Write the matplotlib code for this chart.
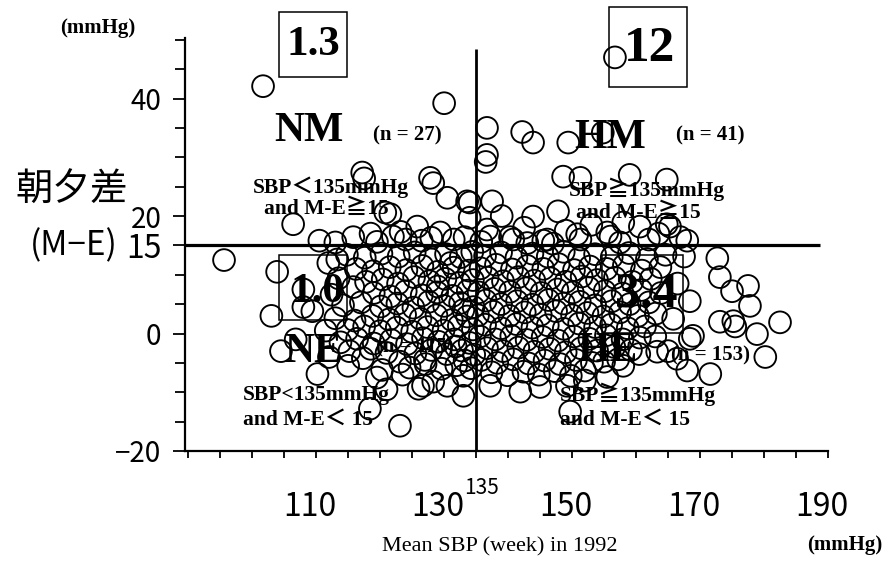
import matplotlib
matplotlib.use("Agg")
import matplotlib.pyplot as plt
from matplotlib.transforms import Affine2D, ScaledTranslation
from matplotlib.patches import Rectangle
from matplotlib.ticker import MultipleLocator

# ---------------- data ----------------
# NM: SBP<135 and M-E>=15
nm_sbp = [101.7, 130.0, 117.2, 117.5, 127.8, 128.3, 130.5, 106.4, 120.8, 125.8,
          134.0, 134.0, 115.8, 122.0, 123.2, 128.0, 133.2, 133.6, 121.6, 129.4,
          131.5, 126.5, 119.5, 113.0, 124.0, 118.5, 110.5]
nm_me = [42.1, 39.2, 27.4, 26.4, 26.5, 25.6, 23.1, 18.6, 20.6, 18.2,
         22.3, 19.7, 16.4, 16.5, 17.3, 16.3, 16.4, 22.5, 20.3, 17.2,
         16.0, 15.8, 15.6, 15.5, 16.0, 17.0, 15.8]

# HM: SBP>=135 and M-E>=15
hm_sbp = [156.7, 136.7, 142.2, 143.9, 149.4, 154.8, 136.7, 136.5, 148.6, 151.3,
          159.0, 164.8, 143.9, 147.8, 158.0, 165.3, 137.2, 140.8, 145.5, 151.3,
          156.0, 136.7, 140.3, 146.1, 150.8, 155.5, 160.6, 166.9, 164.8, 162.0,
          153.0, 139.0, 137.5, 168.0, 142.5, 149.0, 135.8, 157.5, 163.5, 143.0,
          147.0]
hm_me = [47.0, 35.0, 34.3, 32.5, 32.5, 34.2, 30.4, 29.2, 26.7, 26.5,
         27.0, 26.2, 19.9, 20.8, 18.9, 18.2, 16.5, 16.0, 15.8, 16.0,
         16.5, 17.7, 16.4, 16.0, 16.9, 17.2, 18.2, 16.4, 18.6, 16.0,
         18.5, 20.0, 22.5, 15.8, 18.0, 17.5, 15.6, 15.5, 17.0, 15.4,
         15.3]

# NE: SBP<135 and M-E<15
ne_sbp = [95.6, 103.9, 103.0, 104.5, 110.2, 118.4, 123.1, 120.3, 117.3, 111.9,
          113.3, 115.8, 109.4, 108.0, 108.0, 123.1, 126.7, 133.0, 133.0, 130.5,
          128.3, 126.0, 106.8, 111.5, 112.0,
          114.8, 117.6, 120.2, 122.9, 125.4, 127.8, 130.3, 132.6, 134.4,
          116.2, 118.9, 121.5, 124.1, 126.6, 129.0, 131.5, 133.9,
          113.5, 117.8, 120.4, 122.8, 125.3, 127.7, 130.2, 132.4, 134.5,
          112.4, 119.0, 121.6, 124.0, 126.5, 128.9, 131.3, 133.7,
          114.2, 117.0, 120.1, 122.7, 125.2, 127.6, 130.0, 132.5, 134.6,
          113.0, 116.0, 118.8, 121.4, 123.9, 126.3, 128.8, 131.2, 133.6,
          114.9, 117.5, 120.0, 122.6, 125.0, 127.4, 129.9, 132.3, 134.5,
          113.8, 116.4, 119.0, 121.7, 124.2, 126.7, 129.1, 131.6, 134.0,
          115.2, 118.5, 121.0, 125.5, 128.0, 130.4, 132.8, 134.7,
          124.6, 127.1, 129.6, 131.9, 134.2, 115.0,
          131.0, 133.0, 131.8, 129.0, 133.2, 127.0, 123.5, 119.5, 121.0]
ne_me = [12.5, 10.5, 3.0, -3.0, -6.9, -12.8, -15.7, -6.2, -4.2, 12.0,
         12.6, 7.9, 3.8, 7.5, 4.5, -4.8, -8.9, -10.6, -7.2, -8.9,
         -8.2, -9.4, -1.0, 0.5, -4.0,
         13.4, 12.9, 13.6, 13.1, 13.8, 12.7, 13.5, 13.0, 13.9,
         11.0, 10.6, 11.3, 10.8, 11.5, 10.5, 11.2, 10.7,
         9.4, 8.8, 9.2, 8.5, 9.6, 8.9, 9.3, 8.6, 9.1,
         6.6, 6.9, 6.3, 7.2, 6.5, 7.0, 6.4, 7.3,
         4.8, 5.3, 4.6, 5.1, 4.4, 5.4, 4.7, 5.2, 4.5,
         2.6, 2.2, 3.0, 2.4, 3.2, 2.5, 3.1, 2.3, 2.9,
         0.6, 1.2, 0.4, 1.0, 0.3, 1.1, 0.5, 1.3, 0.7,
         -1.5, -0.9, -1.7, -1.1, -1.8, -0.8, -1.4, -1.0, -1.6,
         -3.0, -2.6, -3.3, -3.4, -2.8, -3.5, -2.9, -3.6,
         -5.8, -5.2, -6.0, -5.4, -5.9, -5.5,
         12.0, 4.0, -2.2, 8.0, -4.6, -4.5, -7.0, -7.5, -9.5]

# HE: SBP>=135 and M-E<15
he_sbp = [172.7, 173.1, 175.0, 177.5, 177.8, 173.1, 175.2, 175.5, 178.9, 182.5,
          180.2, 171.6, 168.4, 168.9, 168.0, 165.8, 166.5, 165.0, 155.5, 149.7,
          137.2, 141.9, 145.0, 149.2, 152.0, 158.0, 160.5, 163.0, 166.4, 157.2,
          163.3, 168.4,
          136.4, 138.9, 141.3, 143.8, 146.2, 148.7, 151.1, 153.6, 156.2, 158.9, 161.7, 164.6, 167.5,
          135.7, 138.1, 140.6, 143.0, 145.5, 147.9, 150.3, 152.8, 155.4, 158.1, 160.9, 163.8,
          136.8, 139.2, 141.6, 144.1, 146.6, 149.0, 151.5, 153.9, 156.7, 159.4, 162.3,
          135.4, 137.9, 140.3, 142.8, 145.2, 147.7, 150.1, 152.6, 155.1, 157.9, 160.8, 163.9,
          136.5, 138.9, 141.4, 143.8, 146.3, 148.7, 151.2, 153.6, 156.2, 159.0, 162.0,
          135.3, 137.7, 140.2, 142.6, 145.1, 147.5, 150.0, 152.4, 154.9, 157.5, 160.3, 163.1,
          136.4, 138.9, 141.3, 143.8, 146.2, 148.7, 151.1, 153.6, 156.1, 158.7, 161.4,
          135.6, 138.0, 140.5, 142.9, 145.4, 147.8, 150.3, 152.7, 155.3, 157.9, 160.6,
          136.7, 139.2, 141.6, 144.1, 146.5, 149.0, 151.4, 153.9, 156.6, 159.2,
          135.8, 138.3, 140.8, 143.2, 145.7, 148.1, 150.6, 153.1, 155.0,
          137.4, 139.9, 142.4, 144.8, 147.3, 149.8, 152.0]
he_me = [12.8, 9.6, 7.2, 8.1, 4.7, 2.0, 2.1, 1.2, -0.1, 1.9,
         -4.0, -6.9, 5.5, -0.4, -6.3, 2.5, 8.5, -3.0, -7.4, -13.3,
         -8.9, -9.9, -9.1, -8.9, -6.3, -5.5, -3.5, -0.5, -4.3, -4.4,
         -3.1, -0.9,
         13.2, 13.8, 12.9, 13.6, 13.1, 13.9, 12.8, 13.5, 13.0, 13.7, 12.7, 13.4, 13.1,
         11.1, 11.7, 10.9, 11.5, 11.0, 11.8, 10.8, 11.4, 11.0, 11.6, 10.7, 11.3,
         9.5, 8.9, 9.6, 9.0, 9.4, 8.8, 9.7, 9.1, 9.5, 8.8, 9.3,
         7.0, 7.6, 7.1, 7.7, 6.9, 7.5, 7.0, 7.8, 7.2, 6.8, 7.4, 6.9,
         5.6, 5.0, 5.5, 4.9, 5.7, 5.1, 5.4, 4.8, 5.5, 5.0, 5.3,
         3.1, 3.7, 3.0, 3.6, 3.2, 3.8, 3.1, 3.5, 2.9, 3.6, 3.0, 3.4,
         1.5, 0.9, 1.6, 1.0, 1.4, 0.8, 1.7, 1.1, 1.5, 0.9, 1.2,
         -0.5, -1.0, -0.4, -1.1, -0.6, -1.2, -0.5, -0.9, -0.3, -1.0, -0.7,
         -2.5, -3.0, -2.4, -3.1, -2.6, -3.2, -2.5, -2.9, -2.3, -2.8,
         -4.5, -5.0, -4.4, -5.1, -4.6, -5.2, -4.5, -5.0, -4.8,
         -6.6, -7.1, -6.5, -7.0, -6.4, -7.2, -8.0]

x_major = [110, 130, 150, 170, 190]
x_labels = ["110", "130", "150", "170", "190"]
y_major = [-20, 0, 15, 20, 40]
y_labels = ["\u221220", "0", "15", "20", "40"]
sbp_cut = 135
me_cut = 15

# ---------------- figure ----------------
W, H = 888, 561
fig = plt.figure(figsize=(W / 100, H / 100), dpi=100)
ax = fig.add_axes([185 / W, 1 - 451 / H, (828 - 185) / W, (451 - 38) / H])
PX = Affine2D().scale(1 / W, -1 / H).translate(0, 1) + fig.transFigure

SERIF = ["Liberation Serif", "Noto Sans CJK JP"]
GOTH = ["Noto Sans CJK JP", "DejaVu Sans"]

xs = nm_sbp + hm_sbp + ne_sbp + he_sbp
ys = nm_me + hm_me + ne_me + he_me
ax.scatter(xs, ys, s=245, facecolors="none", edgecolors="black",
           linewidths=1.35, zorder=2, clip_on=False)

ax.set_xlim(89.5, 190)
ax.set_ylim(-20, 50.3)

ax.plot([89.5, 188.8], [me_cut, me_cut], color="black", lw=2.3, zorder=3,
        solid_capstyle="butt")
ax.plot([sbp_cut, sbp_cut], [-20, 48.4], color="black", lw=2.0, zorder=3,
        solid_capstyle="butt")

for s in ["top", "right"]:
    ax.spines[s].set_visible(False)
for s in ["left", "bottom"]:
    ax.spines[s].set_linewidth(1.6)

ax.set_xticks(x_major)
ax.set_xticklabels(x_labels, fontfamily=GOTH, fontsize=23)
ax.xaxis.set_minor_locator(MultipleLocator(5))
ax.tick_params(axis="x", which="both", direction="out", length=5, width=1.3, pad=24)
shift = ScaledTranslation(-6 / 100, 0, fig.dpi_scale_trans)
for lab in ax.get_xticklabels():
    lab.set_transform(lab.get_transform() + shift)

ax.set_yticks(y_major)
ax.set_yticklabels(y_labels, fontfamily=GOTH, fontsize=20)
ax.yaxis.set_minor_locator(MultipleLocator(5))
ax.tick_params(axis="y", which="major", direction="out", length=9, width=1.3, pad=8)
ax.tick_params(axis="y", which="minor", direction="out", length=7, width=1.3)
for lab in ax.get_yticklabels():
    if lab.get_text() == "15":
        lab.set_fontsize(23)

# ---------------- texts ----------------
def t(x, y, s, fam, size, weight="normal", ha="center", va="center"):
    fig.text(x, y, s, transform=PX, fontfamily=fam, fontsize=size,
             fontweight=weight, ha=ha, va=va, zorder=5)

t(98, 28, "(mmHg)", SERIF, 15, "bold")
t(72, 190, "朝夕差", GOTH, 27)
t(118, 246, "(M\u2212E)", GOTH, 24, ha="right")
t(481, 488, "135", GOTH, 15)
t(500, 547, "Mean SBP (week) in 1992", SERIF, 16)
t(845, 545, "(mmHg)", SERIF, 15, "bold")

# boxed ratios
for (x0, y0, x1, y1), (cx, cy), txt, sz in [
        ((279, 12, 347, 77), (313, 45), "1.3", 31),
        ((609, 7, 687, 87), (650, 49), "12", 37),
        ((279, 255, 347, 320), (317, 292), "1.0", 31),
        ((602, 255, 683, 333), (646, 295), "3.4", 36)]:
    fig.patches.append(Rectangle((x0, y0), x1 - x0, y1 - y0, transform=PX,
                                 fill=False, edgecolor="black", lw=1.1, zorder=4))
    t(cx, cy, txt, SERIF, sz, "bold")

# quadrant names
t(309, 131, "NM", SERIF, 30, "bold")
t(407, 135, "(n = 27)", SERIF, 15, "bold")
t(610, 138, "HM", SERIF, 30, "bold")
t(710, 135, "(n = 41)", SERIF, 15, "bold")
t(313, 352, "NE", SERIF, 30, "bold")
t(415, 347, "(n = 115)", SERIF, 15, "bold")
t(607, 351, "HE", SERIF, 30, "bold")
t(710, 355, "(n = 153)", SERIF, 15, "bold")

t(331, 187, "SBP\uff1c135mmHg", SERIF, 15.5, "bold")
t(326, 209, "and M-E\u226715", SERIF, 15.5, "bold")
t(647, 189, "SBP\u2267135mmHg", SERIF, 15.5, "bold")
t(638, 213, "and M-E\u226715", SERIF, 15.5, "bold")
t(243, 395, "SBP<135mmHg", SERIF, 15.5, "bold", ha="left")
t(243, 420, "and M-E\uff1c 15", SERIF, 15.5, "bold", ha="left")
t(560, 394, "SBP\u2267135mmHg", SERIF, 15.5, "bold", ha="left")
t(560, 420, "and M-E\uff1c 15", SERIF, 15.5, "bold", ha="left")

fig.savefig("out.png", dpi=100, facecolor="white")
